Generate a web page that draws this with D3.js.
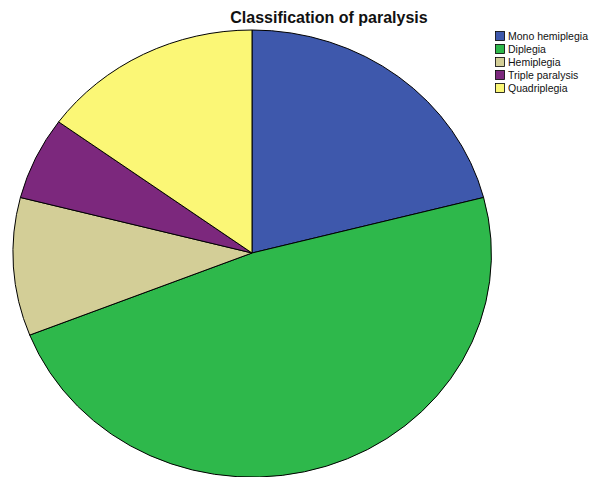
<!DOCTYPE html>
<html>
<head>
<meta charset="utf-8">
<script src="https://cdn.jsdelivr.net/npm/d3@7"></script>
<style>
  body { margin: 0; background: #fff; }
  text { font-family: "Liberation Sans", Arial, sans-serif; }
</style>
</head>
<body>
<div id="chart"></div>
<script>
// chart size
const width = 590;
const height = 477;

// data (percent of cases)
const categories = ["Mono hemiplegia", "Diplegia", "Hemiplegia", "Triple paralysis", "Quadriplegia"];
const values = [21, 48, 10, 6, 15];
const colors = ["#3e58ac", "#2eb84b", "#d3ce97", "#7c287d", "#fbf776"];

const svg = d3.select("#chart")
  .append("svg")
  .attr("width", width)
  .attr("height", height);

// pie is drawn squashed, like the original
const cx = 252, cy = 253, rx = 239, ry = 223;

const pie = d3.pie().sort(null).value(d => d);
const arc = d3.arc().innerRadius(0).outerRadius(1);

const g = svg.append("g")
  .attr("transform", `translate(${cx},${cy}) scale(${rx},${ry})`);

g.selectAll("path")
  .data(pie(values))
  .enter()
  .append("path")
    .attr("d", arc)
    .attr("fill", (d, i) => colors[i])
    .attr("stroke", "#000")
    .attr("stroke-width", 1)
    .attr("vector-effect", "non-scaling-stroke");

// title
svg.append("text")
  .attr("x", 329)
  .attr("y", 23)
  .attr("text-anchor", "middle")
  .attr("font-size", "16px")
  .attr("font-weight", "bold")
  .attr("fill", "#111")
  .text("Classification of paralysis");

// legend
const legend = svg.append("g")
  .attr("transform", "translate(495,31)");

const item = legend.selectAll(".item")
  .data(categories)
  .enter()
  .append("g")
    .attr("class", "item")
    .attr("transform", (d, i) => `translate(0,${i * 13})`);

item.append("rect")
  .attr("x", 0.5)
  .attr("y", 0.5)
  .attr("width", 9)
  .attr("height", 9)
  .attr("fill", (d, i) => colors[i])
  .attr("stroke", "#000")
  .attr("stroke-width", 0.8);

item.append("text")
  .attr("x", 13)
  .attr("y", 9)
  .attr("font-size", "10.5px")
  .attr("fill", "#111")
  .text(d => d);
</script>
</body>
</html>
